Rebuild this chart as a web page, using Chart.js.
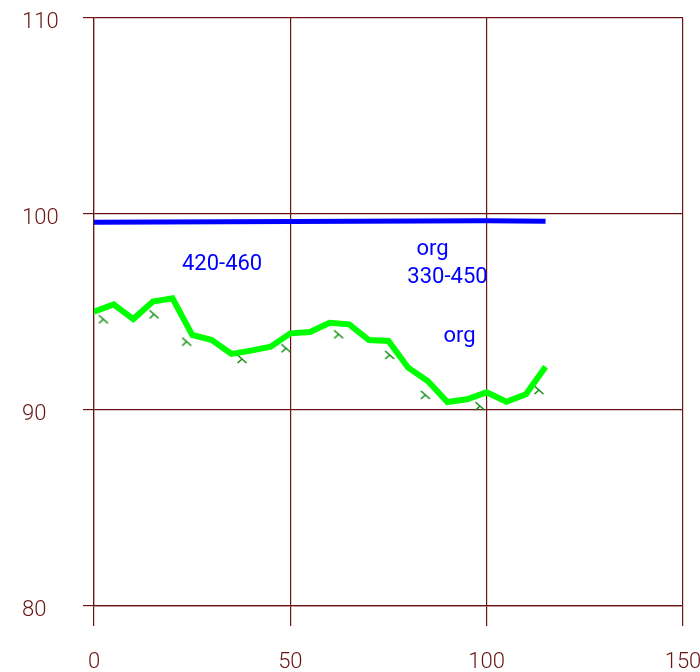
<!DOCTYPE html>
<html>
<head>
<meta charset="utf-8">
<script src="https://cdn.jsdelivr.net/npm/chart.js@4/dist/chart.umd.min.js"></script>
<style>
  html, body { margin: 0; padding: 0; background: #fff; }
  #wrap { width: 700px; height: 672px; position: relative; }
</style>
</head>
<body>
<div id="wrap"><canvas id="chart"></canvas></div>
<script>
// x positions of the measured curve
const xValues = [0, 5, 10, 15, 20, 25, 30, 35, 40, 45, 50, 55, 60, 65, 70, 75, 80, 85, 90, 95, 100, 105, 110, 115];
const greenValues = [95.02, 95.39, 94.64, 95.53, 95.70, 93.83, 93.57, 92.86, 93.03, 93.23, 93.91, 93.98,
                     94.45, 94.37, 93.57, 93.52, 92.16, 91.48, 90.41, 90.55, 90.90, 90.42, 90.80, 92.21];

// reference line (blue)
const blueX = [0, 50, 100, 115];
const blueValues = [99.58, 99.62, 99.65, 99.63];

// small lambda marks under the curve
const markX = [2.4, 15.3, 23.6, 37.7, 48.9, 62.3, 75.3, 84.4, 98.3, 113.3];
const markY = [94.63, 94.88, 93.49, 92.60, 93.15, 93.86, 92.81, 90.77, 90.20, 91.02];

// ticks
const xTicks = [0, 50, 100, 150];
const yTicks = [80, 90, 100, 110];

// text notes (in data units)
const noteTexts = ["420-460", "org", "330-450", "org"];
const noteX = [22.4, 82.1, 79.8, 89.0];
const noteY = [97.14, 97.91, 96.50, 93.47];

const gridColor = '#6a1414';

// lambda shaped marker
const lam = document.createElement('canvas');
lam.width = 12; lam.height = 10;
(function () {
    const c = lam.getContext('2d');
    c.strokeStyle = '#0e8a0e';
    c.lineWidth = 1.5;
    c.beginPath();
    c.moveTo(1.5, 1); c.lineTo(10.5, 9);
    c.moveTo(6, 5); c.lineTo(1.5, 9);
    c.stroke();
})();

const notesPlugin = {
    id: 'notes',
    afterDatasetsDraw(chart) {
        const ctx = chart.ctx;
        const xs = chart.scales.x, ys = chart.scales.y;
        ctx.save();
        ctx.font = '22px Roboto';
        ctx.fillStyle = '#0000ff';
        ctx.textAlign = 'left';
        ctx.textBaseline = 'alphabetic';
        noteTexts.forEach((t, i) => {
            ctx.fillText(t, xs.getPixelForValue(noteX[i]), ys.getPixelForValue(noteY[i]));
        });
        ctx.restore();
    }
};

const ctx = document.getElementById('chart').getContext('2d');

new Chart(ctx, {
    type: 'line',
    data: {
        datasets: [
            {
                label: 'marks',
                data: markX.map((x, i) => ({ x: x, y: markY[i] })),
                showLine: false,
                pointStyle: lam,
                pointRadius: 5,
                order: 3
            },
            {
                label: 'org 330-450',
                data: xValues.map((x, i) => ({ x: x, y: greenValues[i] })),
                borderColor: '#00ff00',
                borderWidth: 6,
                pointRadius: 0,
                tension: 0,
                order: 2
            },
            {
                label: '420-460',
                data: blueX.map((x, i) => ({ x: x, y: blueValues[i] })),
                borderColor: '#0000ff',
                borderWidth: 5,
                pointRadius: 0,
                tension: 0,
                order: 1
            }
        ]
    },
    options: {
        responsive: true,
        maintainAspectRatio: false,
        animation: false,
        layout: { padding: { top: 18, right: 17, left: 22, bottom: 0 } },
        plugins: {
            legend: { display: false },
            tooltip: { enabled: false }
        },
        scales: {
            x: {
                type: 'linear',
                min: 0,
                max: 150,
                afterBuildTicks: s => { s.ticks = xTicks.map(v => ({ value: v })); },
                afterFit: s => { s.height = 66; s.paddingLeft = 0; s.paddingRight = 0; },
                grid: { color: gridColor, lineWidth: 1.2, tickLength: 20, tickColor: gridColor },
                border: { color: gridColor, width: 1.2 },
                ticks: {
                    color: gridColor,
                    font: { family: 'Roboto', size: 22, weight: '300' },
                    padding: 23,
                    maxRotation: 0
                }
            },
            y: {
                min: 80,
                max: 110,
                afterBuildTicks: s => { s.ticks = yTicks.map(v => ({ value: v })); },
                afterFit: s => { s.width = 72; },
                grid: { color: gridColor, lineWidth: 1.2, tickLength: 11, tickColor: gridColor },
                border: { color: gridColor, width: 1.2 },
                ticks: {
                    color: gridColor,
                    font: { family: 'Roboto', size: 22, weight: '300' },
                    crossAlign: 'far',
                    labelOffset: 4
                }
            }
        }
    },
    plugins: [notesPlugin]
});
</script>
</body>
</html>
